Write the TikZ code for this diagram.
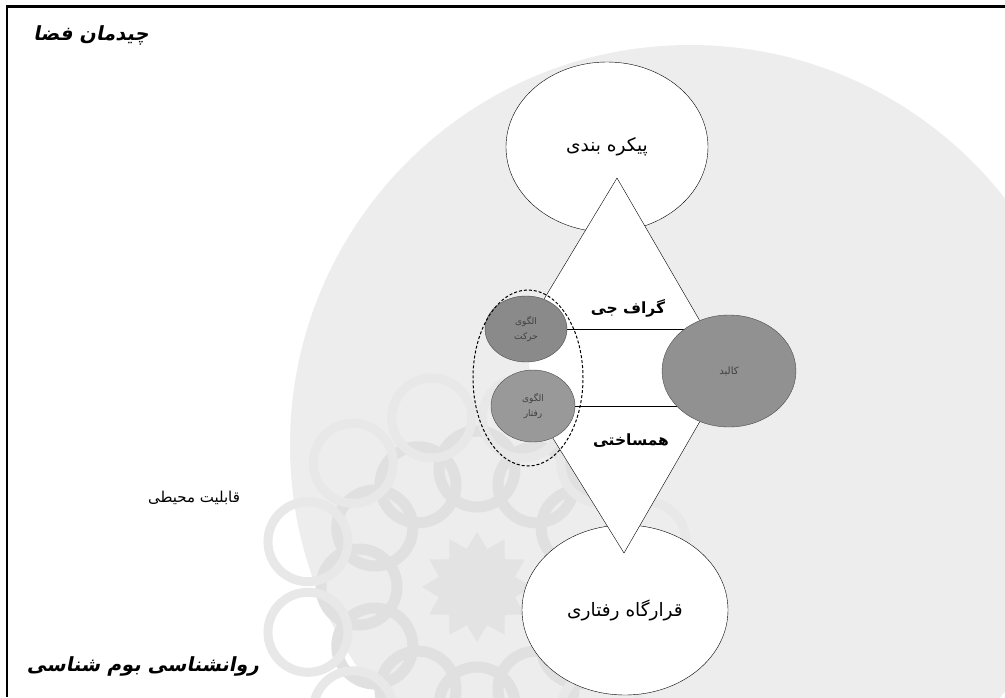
\documentclass[tikz,border=0pt]{standalone}
\usepackage{fontspec}
\usepackage{tikz}
\usetikzlibrary{shapes.geometric, calc}
\newfontfamily\arabicfont[Script=Arabic]{DejaVu Sans}
\newfontfamily\arabicsl[Script=Arabic,FakeSlant=0.2]{DejaVu Sans}
\TeXXeTstate=1
\newcommand{\fa}[1]{\beginR #1\endR}
\pgfdeclarelayer{wm}
\pgfdeclarelayer{ell}
\pgfdeclarelayer{lines}
\pgfsetlayers{wm,ell,lines,main}
\tikzset{bigell/.style={ellipse, draw=black, fill=white, inner sep=0pt, font=\arabicfont\fontsize{18.5}{22}\selectfont}}
\tikzset{grybub/.style={ellipse, draw=black!70, inner sep=0pt, align=center, text=black!75, font=\arabicfont\fontsize{9}{15}\selectfont}}
\tikzset{falbl/.style={inner sep=0pt, font=\arabicfont\fontsize{15}{18}\selectfont}}
\tikzset{fabold/.style={inner sep=0pt, font=\arabicfont\bfseries\fontsize{15.5}{19}\selectfont}}
\tikzset{facap/.style={inner sep=0pt, font=\arabicsl\bfseries\fontsize{19.5}{23}\selectfont}}

\begin{document}
\begin{tikzpicture}[x=1pt, y=-1pt, line width=1.2pt]
    \useasboundingbox (0,0) rectangle (1005,697);
    \clip (0,0) rectangle (1005,697);

    % faded watermark of the page behind the figure
    \begin{pgfonlayer}{wm}
        \fill[black!7] (690,445) circle (400pt);
        \node[star, star points=12, star point ratio=1.4, minimum size=110pt, inner sep=0pt, fill=black!11] (rosette) at (477,587) {};
        \foreach \a in {0,30,...,330}
            \draw[black!12, line width=11pt] ($(477,587)+(\a:118pt)$) circle (38pt);
        \foreach \a in {15,45,...,345}
            \draw[black!9, line width=9pt] ($(477,587)+(\a:175pt)$) circle (40pt);
    \end{pgfonlayer}

    \draw[line width=2.6pt] (1005,6.3) -- (7,6.3) -- (7,697);

    \begin{pgfonlayer}{ell}
        \node[bigell, minimum width=202pt, minimum height=170pt] (config) at (607,147) {\fa{پیکره بندی}};
        \node[bigell, minimum width=206pt, minimum height=170pt] (habitat) at (625,610) {\fa{قرارگاه رفتاری}};
    \end{pgfonlayer}

    \coordinate (topapex) at (617,178);
    \coordinate (botapex) at (624,553);

    \node[grybub, fill=black!46, minimum width=82pt, minimum height=66pt] (hmove) at (526,329) {\fa{الگوی}\\\fa{حرکت}};
    \node[grybub, fill=black!40, minimum width=84pt, minimum height=72pt] (hbehav) at (533,406) {\fa{الگوی}\\\fa{رفتار}};
    \node[grybub, fill=black!43, minimum width=134pt, minimum height=112pt, font=\arabicfont\fontsize{10}{12}\selectfont] (kalbod) at (729,371) {\fa{کالبد}};
    \node[ellipse, draw, line width=1pt, dash pattern=on 3pt off 2pt, minimum width=110pt, minimum height=176pt] (patterns) at (528,378) {};

    \node[fabold] (graphg) at (628,308) {\fa{گراف جی}};
    \node[fabold] (isomorph) at (631,441) {\fa{همساختی}};
    \node[falbl] (afford) at (194,498) {\fa{قابلیت محیطی}};
    \node[facap] (layout) at (91,35) {\fa{چیدمان فضا}};
    \node[facap] (ecopsy) at (143,666) {\fa{روانشناسی بوم شناسی}};

    \begin{pgfonlayer}{lines}
        \fill[white] (topapex) -- (hmove.center) -- (hbehav.center) -- (botapex) -- (kalbod.center) -- cycle;
        \draw
        (topapex) edge (hmove)
        (topapex) edge (kalbod)
        (botapex) edge (hbehav)
        (botapex) edge (kalbod)
        (hmove) edge (hmove -| kalbod)
        (hbehav) edge (hbehav -| kalbod);
    \end{pgfonlayer}
\end{tikzpicture}
\end{document}
